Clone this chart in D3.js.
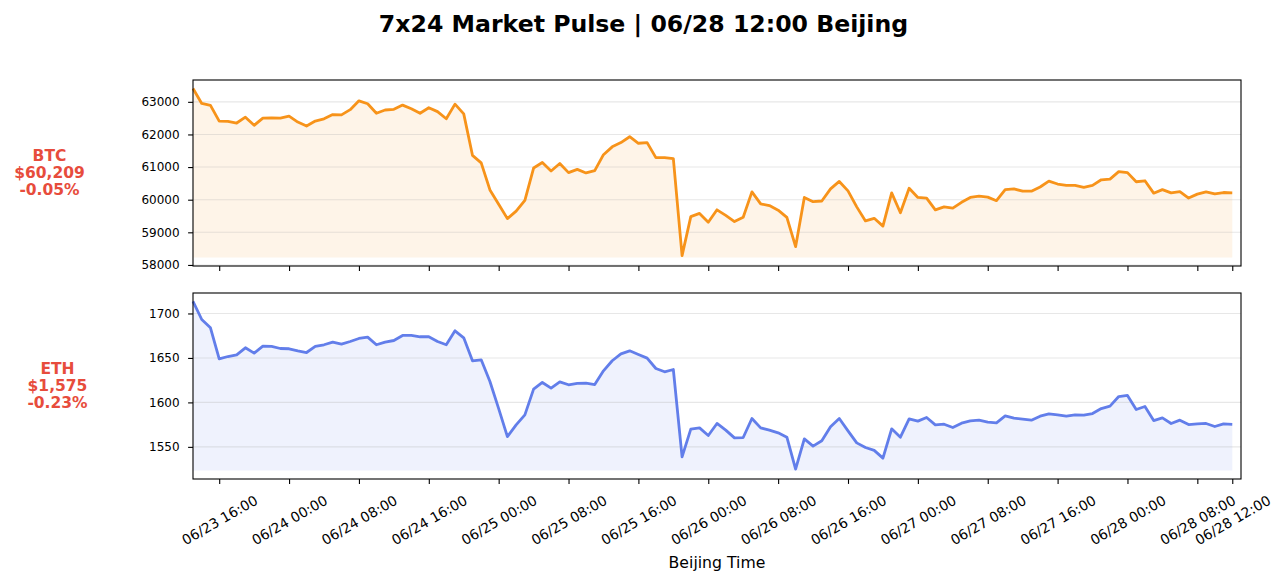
<!DOCTYPE html>
<html><head><meta charset="utf-8">
<script src="https://cdn.jsdelivr.net/npm/d3@7"></script>
<style>
html,body{margin:0;padding:0;background:#fff;}
svg{display:block;font-family:"DejaVu Sans",sans-serif;}
</style></head>
<body>
<svg id="chart" width="1287" height="583"></svg>
<script>
// ---------- data ----------
const startTime = "2024-06-23T13:00:00Z";   // Beijing time stored as UTC clock
const endTime   = "2024-06-28T13:00:00Z";
const btcValues = [63410,62950,62890,62410,62400,62350,62530,62280,62500,62510,62500,62560,62380,62260,62410,62480,62610,62600,62760,63030,
62940,62650,62750,62770,62900,62790,62650,62820,62700,62480,62930,62630,61360,61130,60300,59860,59420,59650,59980,60970,
61140,60880,61110,60830,60930,60820,60890,61380,61620,61750,61930,61730,61750,61290,61290,61260,58285,59480,59580,59310,
59690,59520,59330,59460,60240,59870,59820,59680,59460,58560,60070,59940,59960,60330,60560,60270,59780,59350,59430,59190,
60210,59600,60350,60070,60050,59690,59780,59740,59920,60070,60110,60080,59970,60310,60330,60260,60260,60390,60570,60480,
60440,60440,60380,60440,60610,60630,60860,60830,60550,60580,60200,60310,60210,60250,60050,60170,60240,60180,60220,60209];
const ethValues = [1713.5,1693.2,1683.9,1649.0,1651.6,1653.5,1661.4,1655.4,1663.3,1662.9,1660.6,1660.3,1658.0,1656.1,1662.9,1664.8,1667.8,1665.5,1668.5,1671.9,
1673.4,1664.8,1667.8,1669.6,1675.3,1675.3,1673.8,1673.8,1668.5,1664.8,1680.5,1672.6,1646.8,1647.9,1623.5,1593.0,1561.5,1574.8,1586.0,1614.9,
1622.4,1616.0,1623.1,1619.8,1621.3,1621.6,1620.1,1635.5,1646.8,1654.6,1658.0,1653.9,1649.8,1638.1,1634.4,1637.0,1538.8,1569.9,1571.4,1562.8,
1576.3,1568.8,1560.1,1560.5,1581.9,1571.4,1568.8,1565.8,1560.9,1524.9,1559.0,1550.8,1556.8,1572.5,1581.9,1568.0,1554.5,1549.3,1546.1,1537.3,
1570.3,1560.9,1581.5,1578.9,1583.0,1574.8,1575.5,1571.8,1576.6,1579.3,1580.0,1577.8,1577.0,1584.9,1582.3,1581.1,1580.0,1584.5,1587.1,1586.0,
1584.5,1586.0,1585.6,1587.5,1593.1,1595.8,1606.6,1607.8,1592.0,1595.4,1579.6,1582.6,1576.3,1580.0,1575.1,1575.9,1576.3,1572.9,1575.9,1575.4];
const xTickTimes = ["2024-06-23T16:00:00Z","2024-06-24T00:00:00Z","2024-06-24T08:00:00Z","2024-06-24T16:00:00Z","2024-06-25T00:00:00Z",
"2024-06-25T08:00:00Z","2024-06-25T16:00:00Z","2024-06-26T00:00:00Z","2024-06-26T08:00:00Z","2024-06-26T16:00:00Z",
"2024-06-27T00:00:00Z","2024-06-27T08:00:00Z","2024-06-27T16:00:00Z","2024-06-28T00:00:00Z","2024-06-28T08:00:00Z","2024-06-28T12:00:00Z"];
const btcTicks = [58000,59000,60000,61000,62000,63000];
const ethTicks = [1550,1600,1650,1700];
const titleText = "7x24 Market Pulse | 06/28 12:00 Beijing";
const btcLabel = ["BTC","$60,209","-0.05%"];
const ethLabel = ["ETH","$1,575","-0.23%"];
const xLabelText = "Beijing Time";

// ---------- layout ----------
const svg = d3.select("#chart");
const L = 193, R = 1241;
const panels = [
  {values: btcValues, ticks: btcTicks, top: 80, bottom: 266, color: "#f7931a", label: btcLabel, lx: 49.5, showX: false},
  {values: ethValues, ticks: ethTicks, top: 293, bottom: 479, color: "#627eea", label: ethLabel, lx: 57.5, showX: true}
];
const t0 = new Date(startTime), t1 = new Date(endTime);
const times = d3.utcHour.range(t0, t1); // hourly sample times, one per value
const x = d3.scaleUtc().domain([t0, t1]).range([L, R]);
const fmt = d3.utcFormat("%m/%d %H:%M");
const xTicks = xTickTimes.map(s => new Date(s));

svg.append("text").attr("x", 643.5).attr("y", 32).attr("text-anchor", "middle")
  .style("font-family", "DejaVu Sans").style("font-size", "23.6px").style("font-weight", "bold")
  .attr("fill", "#000").text(titleText);

panels.forEach(p => {
  const vals = p.values;
  const base = d3.min(vals) * 0.999;
  const hi = d3.max(vals);
  const pad = (hi - base) * 0.05;
  const y = d3.scaleLinear().domain([base - pad, hi + pad]).range([p.bottom, p.top]);
  const g = svg.append("g");
  const data = vals.map((v, i) => ({t: times[i], v}));

  // fill
  g.append("path").datum(data)
    .attr("d", d3.area().x(d => x(d.t)).y0(y(base)).y1(d => y(d.v)))
    .attr("fill", p.color).attr("fill-opacity", 0.1);

  // grid
  g.append("g").selectAll("line").data(p.ticks).join("line")
    .attr("x1", L).attr("x2", R).attr("y1", d => y(d)).attr("y2", d => y(d))
    .attr("stroke", "#b0b0b0").attr("stroke-opacity", 0.3).attr("stroke-width", 1.1);

  // line
  g.append("path").datum(data)
    .attr("d", d3.line().x(d => x(d.t)).y(d => y(d.v)))
    .attr("fill", "none").attr("stroke", p.color).attr("stroke-width", 2.8)
    .attr("stroke-linejoin", "round").attr("stroke-linecap", "butt");

  // y axis
  const ya = g.append("g").attr("transform", `translate(${L},0)`)
    .call(d3.axisLeft(y).tickValues(p.ticks).tickSize(4.9).tickPadding(8.5).tickFormat(d3.format("d")));
  ya.attr("font-size", null).attr("font-family", null);
  ya.select(".domain").remove();
  ya.selectAll("line").attr("stroke", "#000").attr("stroke-width", 1.1);
  ya.selectAll("text").style("font-size", "12px").style("font-family", "DejaVu Sans").attr("fill", "#000");

  // x axis
  const xa = g.append("g").attr("transform", `translate(0,${p.bottom})`)
    .call(d3.axisBottom(x).tickValues(xTicks).tickSize(4.9).tickFormat(p.showX ? fmt : ""));
  xa.attr("font-size", null).attr("font-family", null);
  xa.select(".domain").remove();
  xa.selectAll("line").attr("stroke", "#000").attr("stroke-width", 1.1);
  if (p.showX) {
    xa.selectAll("text")
      .style("font-size", "13.9px").style("font-family", "DejaVu Sans").attr("fill", "#000")
      .attr("y", 0).attr("dy", null)
      .attr("text-anchor", "middle").attr("dominant-baseline", "central")
      .attr("transform", "translate(0,41) rotate(-30)");
  } else {
    xa.selectAll("text").remove();
  }

  // frame
  g.append("rect").attr("x", L).attr("y", p.top).attr("width", R - L).attr("height", p.bottom - p.top)
    .attr("fill", "none").attr("stroke", "#000").attr("stroke-width", 1.1);

  // side label
  const mid = (p.top + p.bottom) / 2;
  const lt = g.append("text").attr("text-anchor", "middle")
    .style("font-family", "DejaVu Sans").style("font-weight", "bold").style("font-size", "15.5px")
    .attr("fill", "#e74c3c");
  p.label.forEach((s, i) => {
    lt.append("tspan").attr("x", p.lx).attr("y", mid + (i - 1) * 17.2).attr("dominant-baseline", "central").text(s);
  });
});

svg.append("text").attr("x", (L + R) / 2).attr("y", 562.5).attr("text-anchor", "middle")
  .attr("dominant-baseline", "central")
  .style("font-family", "DejaVu Sans").style("font-size", "15.7px").attr("fill", "#000").text(xLabelText);
</script>
</body></html>
